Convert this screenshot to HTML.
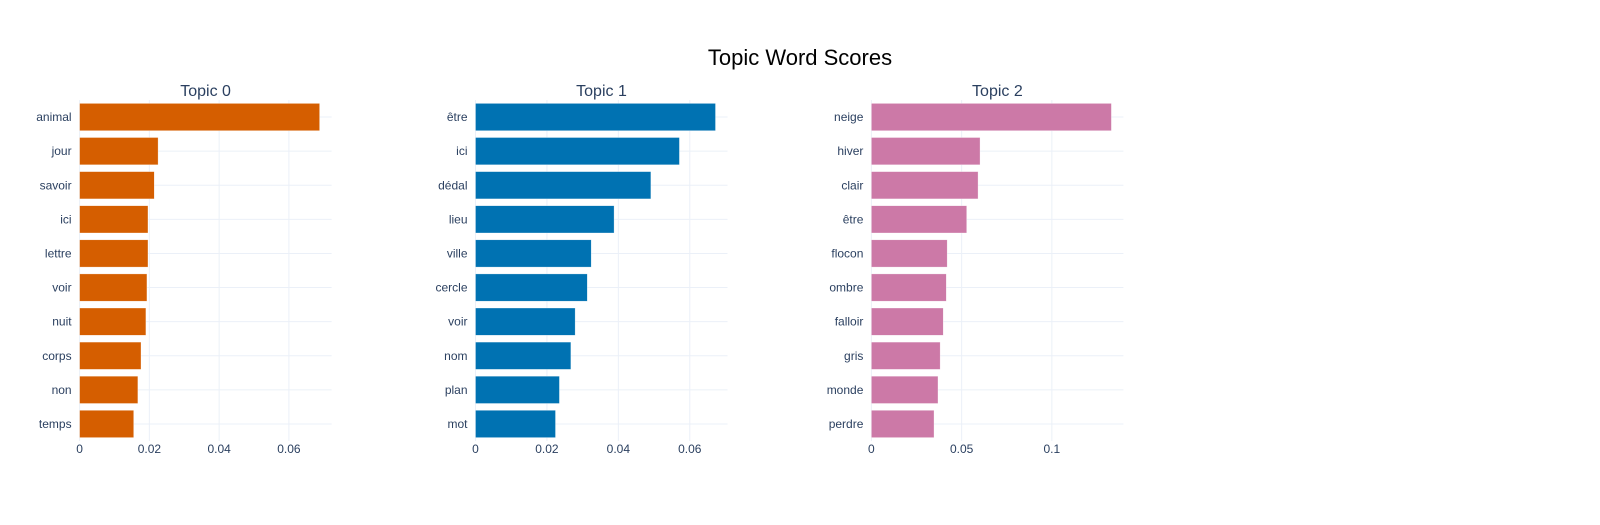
<!DOCTYPE html>
<html><head><meta charset="utf-8"><style>
body{margin:0;background:#fff;}
svg text{font-family:"Liberation Sans",Arial,sans-serif;}
</style></head><body>
<svg id="chart" width="1600" height="520" xmlns="http://www.w3.org/2000/svg">
<rect width="1600" height="520" fill="#fff"/>
<text x="800" y="65" text-anchor="middle" font-size="22" fill="#000">Topic Word Scores</text>
</svg>
<script>
const titles = ["Topic 0","Topic 1","Topic 2"];
const words0 = ["animal","jour","savoir","ici","lettre","voir","nuit","corps","non","temps"];
const scores0 = [0.0688,0.0225,0.0214,0.0196,0.0196,0.0193,0.0190,0.0176,0.0167,0.0155];
const words1 = ["être","ici","dédal","lieu","ville","cercle","voir","nom","plan","mot"];
const scores1 = [0.0672,0.0571,0.0491,0.0388,0.0324,0.0313,0.0279,0.0267,0.0235,0.0224];
const words2 = ["neige","hiver","clair","être","flocon","ombre","falloir","gris","monde","perdre"];
const scores2 = [0.1330,0.0602,0.0591,0.0528,0.0420,0.0415,0.0398,0.0381,0.0369,0.0347];
const ticks0 = [0,0.02,0.04,0.06];
const ticks1 = [0,0.02,0.04,0.06];
const ticks2 = [0,0.05,0.1];
const colors = ["#D55E00","#0072B2","#CC79A7"];

const svgEl = document.getElementById('chart');
const NS = "http://www.w3.org/2000/svg";
function mk(tag, attrs, parent){const e=document.createElementNS(NS,tag);for(const k in attrs)e.setAttribute(k,attrs[k]);(parent||svgEl).appendChild(e);return e;}
const lefts=[79.6,475.5,871.4], plotW=252, plotTop=100, plotBottom=441;
const panels=[[words0,scores0,ticks0],[words1,scores1,ticks1],[words2,scores2,ticks2]];
panels.forEach((p,i)=>{
  const [words,scores,ticks]=p;
  const L=lefts[i];
  const max=Math.max(...scores)*1.05;
  const x=v=>L+v/max*plotW;
  const band=(plotBottom-plotTop)/words.length;
  const y=j=>plotTop+j*band;
  const g=mk('g',{});
  
  
  const t=mk('text',{x:L+plotW/2,y:96,'text-anchor':'middle','font-size':16,fill:'#2a3f5f'},g);
  t.textContent=titles[i];
  
  
  ticks.forEach(tv=>{
    const gl=mk('line',{x1:x(tv),x2:x(tv),y1:plotTop,y2:plotBottom,stroke:'#EBF0F8','stroke-width':1},g);
    
    
    const tl=mk('text',{x:x(tv),y:453,'text-anchor':'middle','font-size':12,fill:'#2a3f5f'},g);
    tl.textContent=String(tv);
    
    
  });
  words.forEach((w,j)=>{
    const cy=y(j)+band/2;
    const gl=mk('line',{x1:L,x2:L+plotW,y1:cy,y2:cy,stroke:'#EBF0F8','stroke-width':1},g);
    
    
  });
  words.forEach((w,j)=>{
    const cy=y(j)+band/2, h=band*0.8;
    const r=mk('rect',{x:x(0),y:cy-h/2,width:x(scores[j])-x(0),height:h,fill:colors[i],stroke:'#fff','stroke-opacity':0.6,'stroke-width':0.5},g);
    
    
    const tl=mk('text',{x:L-8,y:cy+4,'text-anchor':'end','font-size':12,fill:'#2a3f5f'},g);
    tl.textContent=w;
    
    
  });
});
</script>
</body></html>
